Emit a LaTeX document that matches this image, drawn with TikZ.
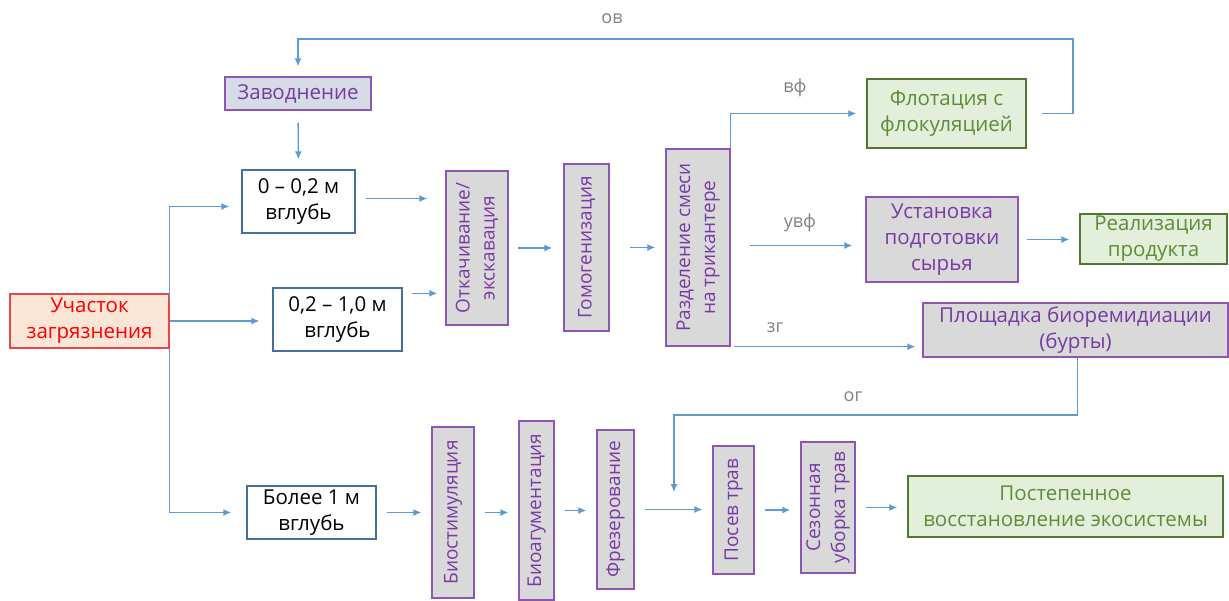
\documentclass[tikz,border=0pt]{standalone}
\usepackage{fontspec}
\setmainfont{Open Sans}
\usetikzlibrary{arrows.meta}

\definecolor{linkblue}{RGB}{91,155,213}
\definecolor{labgrey}{RGB}{128,128,128}
\definecolor{purline}{RGB}{142,86,178}
\definecolor{purtext}{RGB}{120,58,165}
\definecolor{greyfill}{RGB}{217,217,217}
\definecolor{bluegrey}{RGB}{214,220,229}
\definecolor{greenfill}{RGB}{226,239,218}
\definecolor{greenline}{RGB}{80,120,50}
\definecolor{greentext}{RGB}{96,140,56}
\definecolor{redfill}{RGB}{251,229,214}
\definecolor{redline}{RGB}{230,70,70}
\definecolor{boxblue}{RGB}{65,113,156}

\tikzset{
  box/.style={draw, line width=1.3pt, inner sep=0pt, align=center,
    font=\fontsize{20.5}{26}\selectfont},
  procbox/.style={box, draw=purline, fill=greyfill, text=purtext},
  depthbox/.style={box, draw=boxblue, fill=white, text=black},
  resultbox/.style={box, draw=greenline, fill=greenfill, text=greentext},
  upright/.style={rotate=90, font=\fontsize{19}{25}\selectfont},
  link/.style={draw=linkblue, line width=1.3pt, -{Latex[length=8pt,width=7pt]},
    shorten <=10pt, shorten >=10pt},
  flowlabel/.style={text=labgrey, font=\fontsize{18}{20}\selectfont}
}

\begin{document}
\begin{tikzpicture}[x=1pt, y=-1pt]

\useasboundingbox (0,0) rectangle (1229,600);

% source and depths
\node [box, draw=redline, fill=redfill, text=red, minimum width=159, minimum height=54] (uch) at (89.5,321) {Участок\\загрязнения};
\node [procbox, fill=bluegrey, minimum width=146, minimum height=33] (zavod) at (298,93.5) {Заводнение};
\node [depthbox, minimum width=113, minimum height=63] (d1) at (298.5,201.5) {0 – 0,2 м\\вглубь};
\node [depthbox, minimum width=129, minimum height=63] (d2) at (337.5,319.5) {0,2 – 1,0 м\\вглубь};
\node [depthbox, minimum width=129, minimum height=53] (d3) at (311.5,512.5) {Более 1 м\\вглубь};

% upper line (rotated boxes: north is the left side, south the right side)
\node [procbox, upright, minimum width=154, minimum height=62] (otk) at (477,248) {Откачивание/\\экскавация};
\node [procbox, upright, minimum width=167, minimum height=45] (gomo) at (586.5,247.5) {Гомогенизация};
\node [procbox, upright, minimum width=197, minimum height=64] (razd) at (698,247.5) {Разделение смеси\\на трикантере};
\node [resultbox, minimum width=159, minimum height=69] (flot) at (946.5,113.5) {Флотация с\\флокуляцией};
\node [procbox, minimum width=152, minimum height=85] (ust) at (942,239.5) {Установка\\подготовки\\сырья};
\node [resultbox, minimum width=147, minimum height=50] (real) at (1153.5,239) {Реализация\\продукта};
\node [procbox, minimum width=305, minimum height=54] (plosh) at (1075.5,330) {Площадка биоремидиации\\(бурты)};

% lower line
\node [procbox, upright, minimum width=171, minimum height=42] (biost) at (453,512.5) {Биостимуляция};
\node [procbox, upright, minimum width=179, minimum height=35] (bioag) at (536.5,510.5) {Биоагументация};
\node [procbox, upright, minimum width=159, minimum height=37] (frez) at (615.5,509.5) {Фрезерование};
\node [procbox, upright, minimum width=128, minimum height=41] (posev) at (733.5,510) {Посев трав};
\node [procbox, upright, minimum width=131, minimum height=54] (sez) at (828,507.5) {Сезонная\\уборка трав};
\node [resultbox, minimum width=315, minimum height=61] (post) at (1065.5,506.5) {Постепенное\\восстановление экосистемы};

\coordinate (ovturn) at (1073,39);
\coordinate (d2out) at ([yshift=-6pt]d2.north east);
\coordinate (ogturn) at (674,415);
\coordinate (ogend) at (674,492);

% branches from the site
\draw [link, shorten <=-8pt, shorten >=12pt] (uch.north east) |- ([yshift=-5pt]d1.west);
\draw [link, shorten <=0pt, shorten >=13pt] (uch.east) -- (uch.east -| d2.west);
\draw [link, shorten <=0pt, shorten >=15pt] (uch.south east) |- (d3.west);

\draw [link, shorten <=12pt] (zavod.south) -- (d1.north);
\draw [link, shorten >=18pt] ([yshift=3pt]d1.east) -- ([yshift=3pt]d1.east -| otk.north);
\draw [link, shorten <=9pt, shorten >=8pt] (d2out) -- (d2out -| otk.north);
\draw [link, shorten <=9pt, shorten >=11pt] (otk.south) -- (otk.south -| gomo.north);
\draw [link, shorten <=20pt] (gomo.south) -- (gomo.south -| razd.north);

% outputs of the tricanter
\draw [link, shorten <=0pt] (razd.south east) |- (flot.west);
\draw [link, shorten <=19pt, shorten >=13pt] ([yshift=2pt]razd.south) -- ([yshift=2pt]razd.south -| ust.west);
\draw [link, shorten <=8pt] (ust.east) -- (ust.east -| real.west);
\draw [link, shorten <=3pt, shorten >=7pt] (razd.south west) -- (razd.south west -| plosh.west);
\draw [link, shorten <=15pt] (flot.east) -| (ovturn) -| (zavod.north);
\draw [link, shorten <=0pt, shorten >=0pt] ([xshift=2pt]plosh.south) |- (ogturn) -- (ogend);

% lower chain
\foreach \a/\b in {d3.east/biost.north, biost.south/bioag.north, bioag.south/frez.north, frez.south/posev.north, posev.south/sez.north, sez.south/post.west}
    \draw [link] (\a) -- (\a -| \b);

\node [flowlabel] (ov) at (612,19) {ов};
\node [flowlabel] (vf) at (795,88) {вф};
\node [flowlabel] (uvf) at (800,223) {увф};
\node [flowlabel] (zg) at (775,328) {зг};
\node [flowlabel] (og) at (853,397) {ог};

\end{tikzpicture}
\end{document}
